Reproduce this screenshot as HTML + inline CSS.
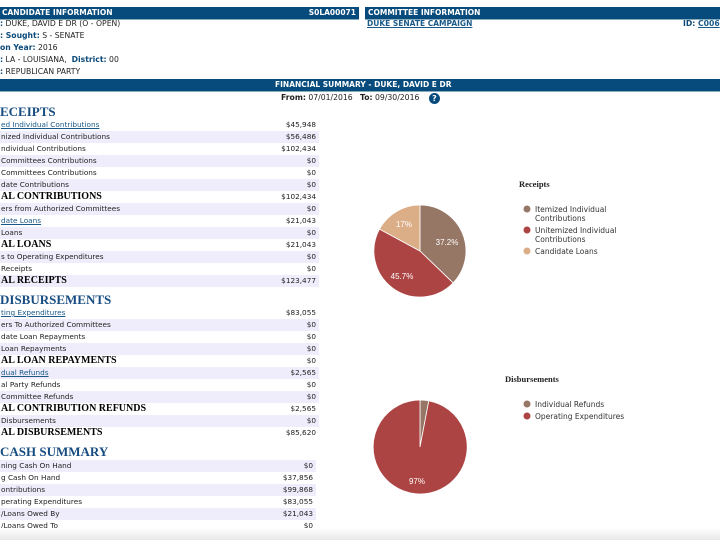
<!DOCTYPE html>
<html><head><meta charset="utf-8"><style>
body{margin:0;width:720px;height:540px;overflow:hidden;background:#fff;position:relative;font-family:"DejaVu Sans","Liberation Sans",sans-serif;font-size:7.7px;color:#222}
.a{position:absolute;white-space:nowrap}
.bar{position:absolute;background:#074b7c;color:#fff;font-weight:bold;font-size:7.5px;line-height:12px;border-bottom:1px solid #8ab}
.b{color:#0b4a7a;font-weight:bold}
.r{position:absolute;left:0;width:319px;height:12px;line-height:12px;font-size:7.3px}
.r.s{background:#efedfb}
.r .v{position:absolute;right:3px;top:0}
.r .l{position:absolute;left:1px;top:0}
.r.t .l{font-family:"Liberation Serif",serif;font-weight:bold;font-size:10px;color:#000}
.lk{color:#1a5a8a;text-decoration:underline}
.h{position:absolute;font-family:"Liberation Serif",serif;font-weight:bold;font-size:13px;color:#174c80;left:0}
</style></head><body>
<div class="bar" style="left:0;top:7px;width:359px;height:12px"><span style="position:absolute;left:2px">CANDIDATE INFORMATION</span><span style="position:absolute;right:3px">S0LA00071</span></div>
<div class="bar" style="left:365px;top:7px;width:355px;height:12px"><span style="position:absolute;left:3px">COMMITTEE INFORMATION</span></div>
<div class="a b lk" style="left:367px;top:19px;font-size:7.5px">DUKE SENATE CAMPAIGN</div>
<div class="a b" style="left:683px;top:19px">ID: <span class="lk">C006</span></div>
<div class="a" style="left:0;top:19px"><span class="b">:</span> DUKE, DAVID E DR (O - OPEN)</div>
<div class="a" style="left:0;top:31px"><span class="b">: Sought:</span> S - SENATE</div>
<div class="a" style="left:0;top:43px"><span class="b">on Year:</span> 2016</div>
<div class="a" style="left:0;top:55px"><span class="b">:</span> LA - LOUISIANA, &nbsp;<span class="b">District:</span> 00</div>
<div class="a" style="left:0;top:67px"><span class="b">:</span> REPUBLICAN PARTY</div>
<div class="bar" style="left:0;top:79px;width:720px;height:12px"><span style="position:absolute;left:275px">FINANCIAL SUMMARY - DUKE, DAVID E DR</span></div>
<div class="a" style="left:281px;top:93px"><b>From:</b> 07/01/2016 &nbsp;&nbsp;<b>To:</b> 09/30/2016</div>
<div class="a" style="left:429px;top:93px;width:11px;height:11px;border-radius:50%;background:#074b7c;color:#fff;font-weight:bold;font-size:8px;line-height:11px;text-align:center">?</div>

<div class="h" style="top:104px">ECEIPTS</div>
<div class="r" style="top:119px"><span class="l lk">ed Individual Contributions</span><span class="v">$45,948</span></div>
<div class="r s" style="top:131px"><span class="l">nized Individual Contributions</span><span class="v">$56,486</span></div>
<div class="r" style="top:143px"><span class="l">ndividual Contributions</span><span class="v">$102,434</span></div>
<div class="r s" style="top:155px"><span class="l">Committees Contributions</span><span class="v">$0</span></div>
<div class="r" style="top:167px"><span class="l">Committees Contributions</span><span class="v">$0</span></div>
<div class="r s" style="top:179px"><span class="l">date Contributions</span><span class="v">$0</span></div>
<div class="r t" style="top:191px"><span class="l">AL CONTRIBUTIONS</span><span class="v">$102,434</span></div>
<div class="r s" style="top:203px"><span class="l">ers from Authorized Committees</span><span class="v">$0</span></div>
<div class="r" style="top:215px"><span class="l lk">date Loans</span><span class="v">$21,043</span></div>
<div class="r s" style="top:227px"><span class="l">Loans</span><span class="v">$0</span></div>
<div class="r t" style="top:239px"><span class="l">AL LOANS</span><span class="v">$21,043</span></div>
<div class="r s" style="top:251px"><span class="l">s to Operating Expenditures</span><span class="v">$0</span></div>
<div class="r" style="top:263px"><span class="l">Receipts</span><span class="v">$0</span></div>
<div class="r t s" style="top:275px"><span class="l">AL RECEIPTS</span><span class="v">$123,477</span></div>

<div class="h" style="top:292px">DISBURSEMENTS</div>
<div class="r" style="top:307px"><span class="l lk">ting Expenditures</span><span class="v">$83,055</span></div>
<div class="r s" style="top:319px"><span class="l">ers To Authorized Committees</span><span class="v">$0</span></div>
<div class="r" style="top:331px"><span class="l">date Loan Repayments</span><span class="v">$0</span></div>
<div class="r s" style="top:343px"><span class="l">Loan Repayments</span><span class="v">$0</span></div>
<div class="r t" style="top:355px"><span class="l">AL LOAN REPAYMENTS</span><span class="v">$0</span></div>
<div class="r s" style="top:367px"><span class="l lk">dual Refunds</span><span class="v">$2,565</span></div>
<div class="r" style="top:379px"><span class="l">al Party Refunds</span><span class="v">$0</span></div>
<div class="r s" style="top:391px"><span class="l">Committee Refunds</span><span class="v">$0</span></div>
<div class="r t" style="top:403px"><span class="l">AL CONTRIBUTION REFUNDS</span><span class="v">$2,565</span></div>
<div class="r s" style="top:415px"><span class="l">Disbursements</span><span class="v">$0</span></div>
<div class="r t" style="top:427px"><span class="l">AL DISBURSEMENTS</span><span class="v">$85,620</span></div>

<div class="h" style="top:444px">CASH SUMMARY</div>
<div class="r s" style="top:460px;width:316px"><span class="l">ning Cash On Hand</span><span class="v">$0</span></div>
<div class="r" style="top:472px;width:316px"><span class="l">g Cash On Hand</span><span class="v">$37,856</span></div>
<div class="r s" style="top:484px;width:316px"><span class="l">ontributions</span><span class="v">$99,868</span></div>
<div class="r" style="top:496px;width:316px"><span class="l">perating Expenditures</span><span class="v">$83,055</span></div>
<div class="r s" style="top:508px;width:316px"><span class="l">/Loans Owed By</span><span class="v">$21,043</span></div>
<div class="r" style="top:520px;width:316px"><span class="l">/Loans Owed To</span><span class="v">$0</span></div>
<div class="a" style="left:0;top:528px;width:720px;height:12px;background:linear-gradient(#fff,#e8e8e8)"></div>

<svg class="a" style="left:0;top:0" width="720" height="540" font-family="Liberation Sans,sans-serif">
<g stroke="#fff" stroke-width="0.8">
<path d="M420,251 L420,205 A46,46 0 0 1 453.1,282.9 Z" fill="#967766"/>
<path d="M420,251 L453.1,282.9 A46,46 0 0 1 379.5,229.1 Z" fill="#ad4444"/>
<path d="M420,251 L379.5,229.1 A46,46 0 0 1 420,205 Z" fill="#dcae88"/>
<path d="M420,447 L420,400 A47,47 0 0 1 428.8,400.8 Z" fill="#967766"/>
<path d="M420,447 L428.8,400.8 A47,47 0 1 1 420,400 Z" fill="#ad4444"/>
</g>
<g fill="#fff" font-size="8" text-anchor="middle">
<text x="447" y="245">37.2%</text><text x="402" y="279">45.7%</text><text x="404" y="227">17%</text><text x="417" y="484">97%</text>
</g>
<g font-family="Liberation Serif,serif" font-weight="bold" font-size="8.5" fill="#222">
<text x="519" y="187">Receipts</text><text x="505" y="382">Disbursements</text>
</g>
<circle cx="527" cy="209" r="3.5" fill="#967766"/><circle cx="527" cy="230" r="3.5" fill="#ad4444"/><circle cx="527" cy="251" r="3.5" fill="#dcae88"/>
<circle cx="527" cy="404" r="3.5" fill="#967766"/><circle cx="527" cy="416" r="3.5" fill="#ad4444"/>
<g font-family="DejaVu Sans,sans-serif" font-size="7.5" fill="#333">
<text x="535" y="212">Itemized Individual</text><text x="535" y="221">Contributions</text>
<text x="535" y="233">Unitemized Individual</text><text x="535" y="242">Contributions</text>
<text x="535" y="254">Candidate Loans</text>
<text x="535" y="407">Individual Refunds</text><text x="535" y="419">Operating Expenditures</text>
</g>
</svg>
</body></html>
